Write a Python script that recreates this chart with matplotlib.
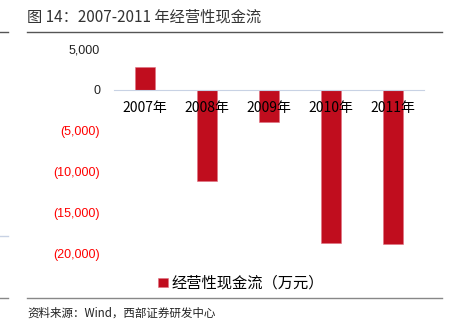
import matplotlib
matplotlib.use("Agg")
import matplotlib.pyplot as plt
from matplotlib.lines import Line2D

plt.rcParams['font.family'] = ['Noto Sans CJK SC', 'DejaVu Sans']

# data (万元)
years = ['2007年', '2008年', '2009年', '2010年', '2011年']
cash_flow = [2800, -11200, -4000, -18800, -18850]
y_ticks = [5000, 0, -5000, -10000, -15000, -20000]
y_labels = ['5,000', '0', '(5,000)', '(10,000)', '(15,000)', '(20,000)']

BAR_RED = '#c00d1e'

fig = plt.figure(figsize=(4.5, 3.33), dpi=100)
ax = fig.add_axes([0.2533, 0.2402, 0.689, 0.6126])

x = range(len(years))
ax.bar(x, cash_flow, width=0.31, color=BAR_RED, edgecolor='#e07080', linewidth=0.4,
       label='经营性现金流（万元）')

ax.set_xlim(-0.5, len(years) - 0.5)
ax.set_ylim(-20000, 5000)
ax.set_yticks(y_ticks)
ax.set_yticklabels(y_labels, family=['Liberation Sans', 'DejaVu Sans'], fontsize=9)
for lab, v in zip(ax.get_yticklabels(), y_ticks):
    lab.set_color('#ff0000' if v < 0 else '#222222')

ax.set_xticks(list(x))
ax.set_xticklabels(years, fontsize=8.5, color='#222222')
ax.spines['bottom'].set_position(('data', 0))
ax.spines['bottom'].set_color('#c8d2e4')
for s in ['top', 'right', 'left']:
    ax.spines[s].set_visible(False)
ax.tick_params(axis='x', length=0, pad=8)
ax.tick_params(axis='y', length=0, pad=10)

ax.legend(loc='upper center', bbox_to_anchor=(0.41, -0.04), frameon=False,
          fontsize=11, handlelength=0.6, handleheight=0.6, handletextpad=0.25)

# title and source
fig.text(27 / 450, 1 - 17 / 333, '图 14：2007-2011 年经营性现金流', fontsize=11,
         color='#333333', va='center', ha='left')
fig.text(27 / 450, 1 - 313 / 333, '资料来源：Wind，西部证券研发中心', fontsize=8.3,
         color='#222222', va='center', ha='left')

# page rules
for y, x0, x1, c in [(32, 27, 442, '#555555'), (32, 0, 8, '#555555'),
                     (298, 27, 442, '#888888'), (298, 0, 8, '#888888'),
                     (236, 0, 8, '#c8d2e4')]:
    fig.add_artist(Line2D([x0 / 450, x1 / 450], [1 - y / 333, 1 - y / 333],
                          color=c, linewidth=1.0))

fig.savefig('out.png', dpi=100)
